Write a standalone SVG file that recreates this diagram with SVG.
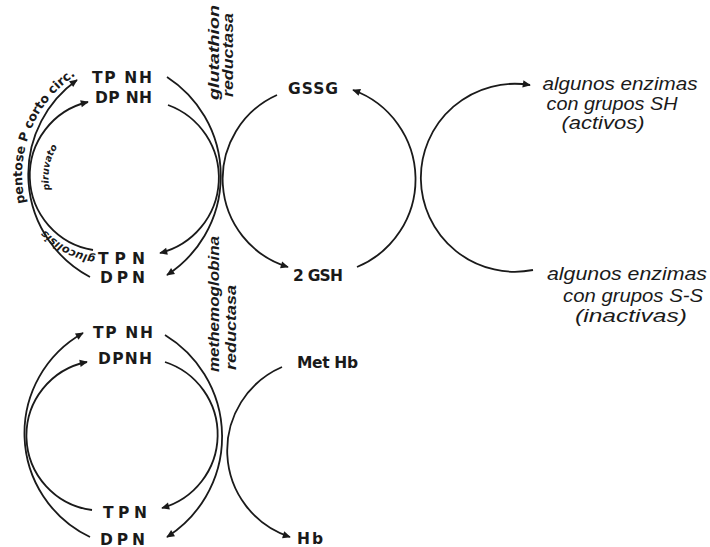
<svg xmlns="http://www.w3.org/2000/svg" width="710" height="547" viewBox="0 0 710 547">
<style>
.ln{fill:none;stroke:#1a1a1a;stroke-width:1.8}
.arr{marker-end:url(#ah)}
.lbl{font-family:"DejaVu Sans","Liberation Sans",sans-serif;font-weight:bold;font-size:15.5px;fill:#1a1a1a}
.it{font-family:"Liberation Sans","DejaVu Sans",sans-serif;font-style:italic;font-size:17.5px;fill:#1a1a1a;text-anchor:middle}
.vt{font-family:"Liberation Sans","DejaVu Sans",sans-serif;font-style:italic;font-weight:bold;font-size:14px;fill:#1a1a1a}
.ct{font-family:"DejaVu Sans","Liberation Sans",sans-serif;font-weight:bold;fill:#1a1a1a}
</style>
<defs>
<marker id="ah" viewBox="0 0 10 10" refX="9" refY="5" markerWidth="10" markerHeight="8" markerUnits="userSpaceOnUse" orient="auto">
<path d="M0,0.5 L10,5 L0,9.5 z" fill="#1a1a1a"/>
</marker>
<path id="pPent" d="M25.4,203 A120,120 0 0 1 103,61.7"/>
<path id="pPir" d="M50,190 A56,56 0 0 1 74,130"/>
<path id="pGluc" d="M95.4,256 A81,81 0 0 1 28,200"/>
</defs>

<g id="connectors">
<path class="ln arr" d="M90,277 A116,116 0 0 1 77,80"/>
<path class="ln arr" d="M93,250 A75.5,75.5 0 0 1 88,102"/>
<path class="ln arr" d="M167,77 A118,118 0 0 1 167,275"/>
<path class="ln arr" d="M168,105 A77.5,77.5 0 0 1 160,253"/>
<path class="ln arr" d="M277,95 A92,92 0 0 0 288,267"/>
<path class="ln arr" d="M357,267 A95,95 0 0 0 353,90"/>
<path class="ln arr" d="M533,270 A94,94 0 1 1 530,85"/>
<path class="ln arr" d="M90,537 A115,115 0 0 1 83,333"/>
<path class="ln arr" d="M92,510 A75,75 0 0 1 87,362"/>
<path class="ln arr" d="M165,335 A119,119 0 0 1 167,537"/>
<path class="ln arr" d="M165,362 A76.3,76.3 0 0 1 162,508"/>
<path class="ln arr" d="M282,367 A91,91 0 0 0 290,537"/>
</g>

<g id="n-tpnh1"><text class="lbl" x="92" y="83" textLength="60">TP NH</text></g>
<g id="n-dpnh1"><text class="lbl" x="95" y="103" textLength="57">DP NH</text></g>
<g id="n-tpn1"><text class="lbl" x="98" y="264" textLength="47">TPN</text></g>
<g id="n-dpn1"><text class="lbl" x="100" y="283" textLength="45">DPN</text></g>
<g id="n-gssg"><text class="lbl" x="288" y="94" textLength="50">GSSG</text></g>
<g id="n-2gsh"><text class="lbl" x="293" y="281" textLength="50">2 GSH</text></g>
<g id="n-tpnh2"><text class="lbl" x="93" y="338" textLength="60">TP NH</text></g>
<g id="n-dpnh2"><text class="lbl" x="98" y="364" textLength="54">DPNH</text></g>
<g id="n-tpn2"><text class="lbl" x="103" y="518" textLength="44">TPN</text></g>
<g id="n-dpn2"><text class="lbl" x="100" y="545" textLength="45">DPN</text></g>
<g id="n-methb"><text class="lbl" x="297" y="368" textLength="61">Met Hb</text></g>
<g id="n-hb"><text class="lbl" x="297" y="544" textLength="26">Hb</text></g>

<g id="n-sh">
<text class="it" x="620" y="90" textLength="155" lengthAdjust="spacingAndGlyphs">algunos enzimas</text>
<text class="it" x="612" y="110" textLength="131" lengthAdjust="spacingAndGlyphs">con grupos SH</text>
<text class="it" x="603" y="129" textLength="83" lengthAdjust="spacingAndGlyphs">(activos)</text>
</g>
<g id="n-ss">
<text class="it" x="627" y="280" textLength="160" lengthAdjust="spacingAndGlyphs">algunos enzimas</text>
<text class="it" x="633" y="302" textLength="140" lengthAdjust="spacingAndGlyphs">con grupos S-S</text>
<text class="it" x="631" y="322" textLength="112" lengthAdjust="spacingAndGlyphs">(inactivas)</text>
</g>

<g id="n-gr">
<text class="vt" transform="translate(219,100) rotate(-90)" textLength="95" lengthAdjust="spacingAndGlyphs">glutathion</text>
<text class="vt" transform="translate(233,97) rotate(-90)" textLength="84" lengthAdjust="spacingAndGlyphs">reductasa</text>
</g>
<g id="n-mr">
<text class="vt" transform="translate(219,372) rotate(-90)" textLength="136" lengthAdjust="spacingAndGlyphs">methemoglobina</text>
<text class="vt" transform="translate(236,370) rotate(-90)" textLength="85" lengthAdjust="spacingAndGlyphs">reductasa</text>
</g>

<g id="n-pent"><text class="ct" font-size="12.5"><textPath href="#pPent">pentose P corto circ.</textPath></text></g>
<g id="n-pir"><text class="ct" font-size="9.5" font-style="italic"><textPath href="#pPir">piruvato</textPath></text></g>
<g id="n-gluc"><text class="ct" font-size="11" font-style="italic"><textPath href="#pGluc">glucolisis</textPath></text></g>
</svg>
